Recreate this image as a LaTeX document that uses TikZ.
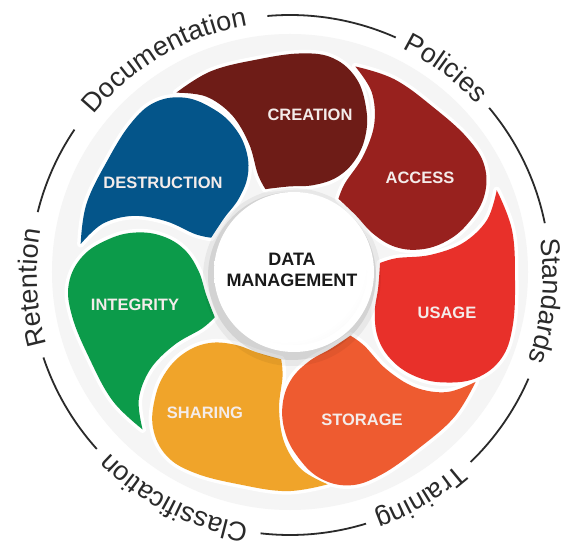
\documentclass[tikz,border=0pt]{standalone}
\usepackage{fontspec}
\setmainfont{Liberation Sans}
\usetikzlibrary{decorations.text}
\definecolor{cCreation}{HTML}{6E1C17}
\definecolor{cAccess}{HTML}{98211E}
\definecolor{cUsage}{HTML}{E8302A}
\definecolor{cStorage}{HTML}{EE5B30}
\definecolor{cSharing}{HTML}{F0A42A}
\definecolor{cIntegrity}{HTML}{0C9B4A}
\definecolor{cDestruction}{HTML}{04558A}
\definecolor{ringtxt}{HTML}{2A2A2A}
\definecolor{labtxt}{HTML}{F4ECEA}
\newcommand{\ringfont}{\fontsize{27}{30}\selectfont\color{ringtxt}}
\newcommand{\labfont}{\fontsize{16.5}{19}\selectfont\bfseries}
\pgfdeclareradialshading{corerim}{\pgfpoint{0bp}{0bp}}{color(0bp)=(white); color(40bp)=(white); color(45bp)=(black!8); color(50bp)=(black!25)}
\pgfdeclareradialshading{coreface}{\pgfpoint{-8bp}{10bp}}{color(0bp)=(white); color(28bp)=(white); color(50bp)=(black!13)}
\tikzset{
  petal/.pic={
    \path[#1] (175.5,136.5) -- plot[smooth, tension=0.65] coordinates {(175.5,136.5) (201.3,102.6) (218.2,55.5) (229,10) (227,-24) (208,-50) (178,-63) (150,-65) (124,-57) (104,-40) (93,-16) (89,10) (83.9,33.9)}
      -- plot[smooth, tension=0.6] coordinates {(83.9,33.9) (98.8,43.4) (129.6,55.6) (157.9,76.4) (174.5,105.2) (175.5,136.5)} -- cycle;
  },
  halo/.style={draw=white, line width=7pt, line join=round},
  petallabel/.style={text=labtxt, font=\labfont, inner sep=0pt},
  ringline/.style={draw=ringtxt, line width=1.8pt},
  ringword/.style={decorate, decoration={text along path, text align=center, text={|\ringfont|#1}}},
  pCreation/.style={rotate=84.5, scale=0.955},
  pAccess/.style={rotate=34.5, scale=0.97},
  pUsage/.style={rotate=-16.3},
  pStorage/.style={rotate=-68.5, scale=0.97},
  pSharing/.style={rotate=-117.8, scale=0.97},
  pIntegrity/.style={rotate=-171, scale=0.97},
  pDestruction/.style={rotate=134.5, scale=0.95}
}
\begin{document}
\begin{tikzpicture}[x=1pt,y=1pt]
\useasboundingbox (-290,-276) rectangle (282,272);
\fill[white] (-290,-276) rectangle (282,272);
\coordinate (rc) at (0,-3);
\coordinate (pc) at (0,0);
% faint backing disc
\fill[black!4] (pc) circle (238);
% petal halos (white gaps)
\foreach \p in {Creation,Access,Usage,Storage,Sharing,Integrity,Destruction}
  \pic[p\p] at (pc) {petal=halo};
% petals
\foreach \p in {Creation,Access,Usage,Storage,Sharing,Integrity,Destruction}
  \pic[p\p] at (pc) {petal={fill=c\p}};
% petal labels
\node[petallabel] (creation) at (20,157) {CREATION};
\node[petallabel] (access) at (130,94) {ACCESS};
\node[petallabel] (usage) at (157,-41) {USAGE};
\node[petallabel] (storage) at (72,-148) {STORAGE};
\node[petallabel] (sharing) at (-85,-141) {SHARING};
\node[petallabel] (integrity) at (-155,-33) {INTEGRITY};
\node[petallabel] (destruction) at (-127,89) {DESTRUCTION};
% centre disc
\coordinate (cc) at (4,0);
\fill[black, opacity=0.05] ([shift={(-2,-5)}]cc) circle (89);
\fill[black, opacity=0.09] ([shift={(-2,-4)}]cc) circle (84);
\shade[shading=corerim] (cc) circle (80);
\shade[shading=coreface] (cc) circle (73);
\node[font=\fontsize{18}{21}\selectfont\bfseries, text=black!90, align=center, inner sep=0pt] (core) at (2,2) {DATA\\MANAGEMENT};
% outer ring lines
\draw[ringline] ([shift={(95:260)}]rc) arc[start angle=95, end angle=66, radius=260];
\draw[ringline] ([shift={(40:260)}]rc) arc[start angle=40, end angle=11.5, radius=260];
\draw[ringline] ([shift={(-23.5:260)}]rc) arc[start angle=-23.5, end angle=-46, radius=260];
\draw[ringline] ([shift={(-73:260)}]rc) arc[start angle=-73, end angle=-96.5, radius=260];
\draw[ringline] ([shift={(-138:260)}]rc) arc[start angle=-138, end angle=-161.5, radius=260];
\draw[ringline] ([shift={(166:260)}]rc) arc[start angle=166, end angle=146, radius=260];
% outer ring words
\path[ringword=Documentation] ([shift={(160.2:253)}]rc) arc[start angle=160.2, end angle=80.2, radius=253];
\path[ringword=Policies] ([shift={(93:253)}]rc) arc[start angle=93, end angle=13, radius=253];
\path[ringword=Standards] ([shift={(34.2:253)}]rc) arc[start angle=34.2, end angle=-45.8, radius=253];
\path[ringword=Training] ([shift={(-19.5:253)}]rc) arc[start angle=-19.5, end angle=-99.5, radius=253];
\path[ringword=Classification] ([shift={(-77.4:253)}]rc) arc[start angle=-77.4, end angle=-157.4, radius=253];
\path[ringword=Retention] ([shift={(222.8:253)}]rc) arc[start angle=222.8, end angle=142.8, radius=253];
\end{tikzpicture}
\end{document}
